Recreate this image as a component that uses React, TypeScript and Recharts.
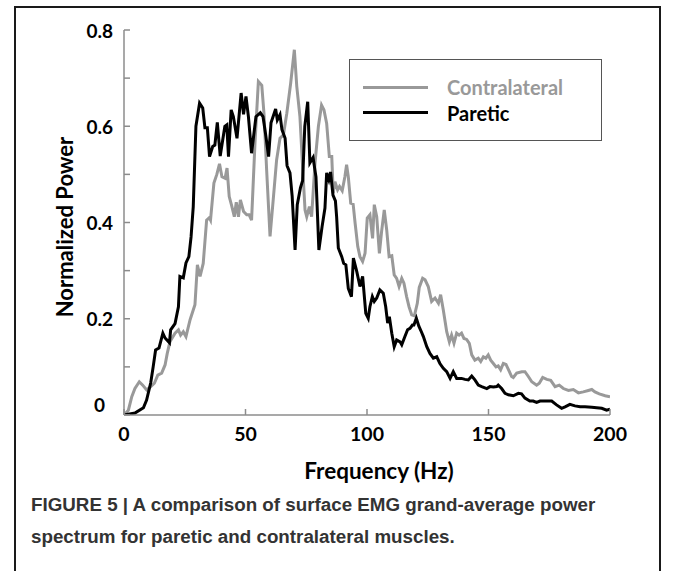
import React from 'react';
import { LineChart, Line, XAxis, YAxis } from 'recharts';

const parFreq = [0, 4.5, 8, 9.3, 11, 12, 13, 14.4, 16, 16.9, 18.7, 19.2, 21, 22.4, 23, 24.4, 25.5, 26.7, 27.6, 28.5, 29.6, 31.1, 32.4, 33.3, 34.3, 35.2, 36.5, 37.4, 38.4, 39.6, 41.5, 42.3, 43, 44.1, 45, 46.5, 48.2, 49.2, 50.2, 51.2, 52.5, 54.3, 56.1, 57.2, 58.4, 59.5, 60.5, 62.4, 63.1, 64.2, 65, 66.3, 67.1, 68.3, 69.2, 70.4, 71.3, 72.6, 73.5, 74.4, 75.6, 76.5, 77.8, 79, 80.2, 81.5, 82.7, 83.4, 84.3, 85, 86, 87, 87.5, 88.2, 89.6, 90.4, 91.3, 92.3, 93.6, 94.4, 95.8, 97.1, 98.2, 99.5, 100.5, 101.2, 102.2, 103, 104, 105.3, 106.7, 107.7, 108.5, 109.2, 110.2, 111.2, 112.2, 113.6, 114.3, 115.6, 116.7, 117.7, 118.7, 119.3, 120.3, 121.3, 122.2, 123.2, 124.6, 125.9, 127.3, 128.7, 130, 131.4, 132.8, 134.2, 135.5, 136.9, 138.9, 140.3, 141.7, 143.1, 144.4, 145.8, 147.2, 149.3, 150.6, 152, 153.4, 154, 155.4, 156.8, 158.2, 160.2, 162.3, 163.6, 165, 167, 168.4, 169.8, 171.2, 174, 176, 178, 180.1, 181.5, 183.5, 185.6, 187.7, 189.7, 192.5, 194.5, 196.6, 198.6, 200];
const parPower = [0, 0.004, 0.015, 0.031, 0.067, 0.1, 0.135, 0.139, 0.17, 0.16, 0.15, 0.177, 0.19, 0.225, 0.288, 0.285, 0.316, 0.329, 0.37, 0.433, 0.6, 0.648, 0.638, 0.597, 0.597, 0.537, 0.558, 0.561, 0.608, 0.538, 0.6, 0.603, 0.537, 0.634, 0.62, 0.575, 0.669, 0.625, 0.662, 0.62, 0.544, 0.62, 0.628, 0.62, 0.579, 0.537, 0.607, 0.636, 0.613, 0.624, 0.593, 0.575, 0.518, 0.503, 0.455, 0.343, 0.437, 0.472, 0.487, 0.6, 0.651, 0.524, 0.535, 0.495, 0.343, 0.391, 0.43, 0.503, 0.489, 0.505, 0.457, 0.445, 0.412, 0.347, 0.329, 0.315, 0.312, 0.263, 0.246, 0.326, 0.298, 0.267, 0.288, 0.211, 0.201, 0.225, 0.246, 0.236, 0.243, 0.26, 0.253, 0.225, 0.191, 0.204, 0.17, 0.142, 0.156, 0.152, 0.146, 0.163, 0.177, 0.18, 0.187, 0.187, 0.201, 0.185, 0.175, 0.163, 0.142, 0.128, 0.118, 0.121, 0.107, 0.097, 0.09, 0.076, 0.09, 0.076, 0.076, 0.074, 0.073, 0.081, 0.073, 0.062, 0.059, 0.055, 0.059, 0.058, 0.059, 0.062, 0.055, 0.045, 0.042, 0.04, 0.045, 0.044, 0.035, 0.029, 0.029, 0.026, 0.029, 0.029, 0.029, 0.021, 0.014, 0.017, 0.022, 0.019, 0.017, 0.017, 0.016, 0.015, 0.014, 0.01, 0.012];

const conFreq = [0, 1.8, 3.2, 4.5, 6.3, 7.7, 9.3, 11, 12.5, 13.9, 15.5, 16.9, 17.8, 18.9, 21, 22.4, 23.3, 24.4, 25.5, 27.2, 29.2, 30.2, 31.3, 32.6, 34, 35.1, 35.6, 37, 38.2, 39.3, 40.3, 41.6, 42.4, 43.3, 44.3, 45.4, 46.2, 47.1, 47.9, 49.2, 50.5, 51.5, 52.5, 53.9, 55.3, 56.7, 57.6, 58.7, 60.1, 61.4, 62.8, 64.2, 65.6, 67, 68.6, 70.1, 71.1, 72.4, 73.5, 74.5, 75.2, 76.3, 77.2, 78.6, 80, 81.3, 82.3, 83.4, 84.5, 85.5, 86.1, 86.8, 87.9, 88.7, 89.8, 90.9, 91.6, 92.3, 93.3, 94.3, 95.1, 96.2, 97.1, 98.2, 99.2, 100.1, 101.2, 102.3, 103, 104, 105.1, 106, 107.1, 108.1, 109.1, 110.2, 111.2, 112.2, 113.2, 114.3, 115.2, 116.3, 117.3, 118.4, 119.5, 120.7, 121.5, 122.9, 123.9, 125.2, 126.6, 128, 129.4, 130.3, 131.4, 132.8, 133.9, 134.8, 135.8, 136.9, 137.9, 138.9, 139.9, 141, 142.1, 143.1, 144.4, 145.8, 146.8, 147.9, 148.9, 149.9, 150.9, 152, 153.1, 154, 155, 156.1, 157.2, 158.6, 159.5, 160.2, 161.6, 163.7, 165, 166.4, 167.8, 169.8, 170.9, 172.3, 174, 175.6, 177.4, 179.1, 180.8, 182.9, 184.9, 187, 189, 191.1, 192.5, 193.8, 195.6, 198, 200];
const conPower = [0, 0.01, 0.038, 0.055, 0.069, 0.062, 0.052, 0.059, 0.066, 0.083, 0.087, 0.104, 0.128, 0.152, 0.17, 0.177, 0.166, 0.173, 0.163, 0.198, 0.229, 0.312, 0.288, 0.315, 0.405, 0.41, 0.405, 0.482, 0.5, 0.522, 0.495, 0.492, 0.513, 0.454, 0.435, 0.412, 0.442, 0.412, 0.447, 0.423, 0.416, 0.416, 0.405, 0.565, 0.693, 0.685, 0.627, 0.509, 0.371, 0.447, 0.53, 0.575, 0.582, 0.627, 0.69, 0.759, 0.683, 0.62, 0.516, 0.426, 0.412, 0.433, 0.412, 0.523, 0.6, 0.644, 0.634, 0.606, 0.537, 0.537, 0.461, 0.485, 0.468, 0.475, 0.466, 0.495, 0.52, 0.495, 0.44, 0.438, 0.399, 0.35, 0.329, 0.319, 0.336, 0.409, 0.416, 0.367, 0.437, 0.412, 0.336, 0.381, 0.426, 0.385, 0.329, 0.331, 0.291, 0.284, 0.267, 0.284, 0.274, 0.246, 0.225, 0.208, 0.206, 0.232, 0.265, 0.284, 0.281, 0.267, 0.236, 0.243, 0.232, 0.25, 0.218, 0.173, 0.152, 0.166, 0.149, 0.17, 0.166, 0.17, 0.159, 0.157, 0.149, 0.125, 0.114, 0.118, 0.111, 0.121, 0.118, 0.125, 0.114, 0.107, 0.1, 0.102, 0.094, 0.107, 0.105, 0.09, 0.08, 0.078, 0.087, 0.09, 0.09, 0.08, 0.069, 0.062, 0.066, 0.078, 0.074, 0.072, 0.059, 0.062, 0.055, 0.051, 0.053, 0.046, 0.048, 0.051, 0.053, 0.048, 0.044, 0.04, 0.038];

const xTicks = [0, 50, 100, 150, 200];
const yTicks = [0, 0.1, 0.2, 0.3, 0.4, 0.5, 0.6, 0.7, 0.8];
const yTickLabels = ['0', '', '0.2', '', '0.4', '', '0.6', '', '0.8'];

const seriesNames = ['Contralateral', 'Paretic'];
const seriesColors = ['#999999', '#000000'];

const parData = parFreq.map((f, i) => ({ f, v: parPower[i] }));
const conData = conFreq.map((f, i) => ({ f, v: conPower[i] }));

const AXIS_COLOR = '#8c8c8c';
const FONT = 'Lato, "Open Sans", sans-serif';

const YTick = (props: any) => {
  const { x, y, payload, index } = props;
  const label = yTickLabels[index] ?? '';
  if (!label) return null;
  const isZero = payload.value === 0;
  return (
    <text x={x + (isZero ? -8 : 0)} y={y + (isZero ? -11 : 0)} textAnchor="end" dominantBaseline="central" fontFamily={FONT} fontWeight={700} fontSize={19} fill="#000">
      {label}
    </text>
  );
};

const LegendBox = () => (
  <div style={{ position: 'absolute', left: 349, top: 59, width: 251, height: 80, border: '1.5px solid #555', background: '#fff' }}>
    {seriesNames.map((n, i) => (
      <div key={n} style={{ position: 'absolute', left: 0, top: 15 + i * 25.5, height: 24, display: 'flex', alignItems: 'center' }}>
        <div style={{ marginLeft: 13, width: 65, height: 3, background: seriesColors[i] }} />
        <span style={{ marginLeft: 19, fontFamily: FONT, fontWeight: 700, fontSize: 20, color: seriesColors[i], whiteSpace: 'nowrap' }}>{n}</span>
      </div>
    ))}
  </div>
);

export default function App() {
  return (
    <div style={{ position: 'absolute', left: 0, top: 0, width: 674, height: 571, background: '#fff', overflow: 'hidden' }}>
      <div style={{ position: 'absolute', left: 14, top: 6, width: 643, height: 620, border: '2px solid #1a1a1a' }} />
      <div style={{ position: 'absolute', left: 0, top: 0 }}>
        <LineChart width={674} height={460} margin={{ top: 30, right: 64, bottom: 15, left: 0 }}>
          <XAxis
            dataKey="f"
            type="number"
            domain={[0, 200]}
            ticks={xTicks}
            allowDataOverflow
            stroke={AXIS_COLOR}
            strokeWidth={1.5}
            tickSize={-6}
            tickMargin={18}
            height={30}
            tick={{ fill: '#000', fontFamily: FONT, fontWeight: 700, fontSize: 19.5 }}
          />
          <XAxis
            xAxisId="top"
            dataKey="f"
            type="number"
            orientation="top"
            domain={[0, 200]}
            ticks={xTicks}
            allowDataOverflow
            stroke={AXIS_COLOR}
            strokeWidth={1.5}
            tickSize={-6}
            tick={false}
            height={0}
          />
          <YAxis
            type="number"
            domain={[0, 0.8]}
            ticks={yTicks}
            allowDataOverflow
            stroke={AXIS_COLOR}
            strokeWidth={1.5}
            tickSize={-6}
            tickMargin={17}
            width={124}
            tick={<YTick />}
          />
          <YAxis
            yAxisId="right"
            type="number"
            orientation="right"
            domain={[0, 0.8]}
            ticks={yTicks}
            allowDataOverflow
            stroke={AXIS_COLOR}
            strokeWidth={1.5}
            tickSize={-6}
            tick={false}
            width={0}
          />
          <Line data={conData} dataKey="v" name={seriesNames[0]} type="linear" stroke={seriesColors[0]} strokeWidth={3} dot={false} isAnimationActive={false} />
          <Line data={parData} dataKey="v" name={seriesNames[1]} type="linear" stroke={seriesColors[1]} strokeWidth={3} dot={false} isAnimationActive={false} />
        </LineChart>
      </div>
      <LegendBox />
      <div style={{ position: 'absolute', left: 379, top: 470, transform: 'translate(-50%, -50%)', fontFamily: FONT, fontWeight: 700, fontSize: 22.5, color: '#000', whiteSpace: 'nowrap' }}>
        Frequency (Hz)
      </div>
      <div style={{ position: 'absolute', left: 64, top: 227, transform: 'translate(-50%, -50%) rotate(-90deg)', fontFamily: FONT, fontWeight: 700, fontSize: 22, color: '#000', whiteSpace: 'nowrap' }}>
        Normalized Power
      </div>
      <div style={{ position: 'absolute', left: 31, top: 489, fontFamily: '"Liberation Sans", Arial, sans-serif', fontWeight: 700, fontSize: 18.8, lineHeight: '32px', color: '#333', whiteSpace: 'nowrap' }}>
        <div>FIGURE 5 | A comparison of surface EMG grand-average power</div>
        <div>spectrum for paretic and contralateral muscles.</div>
      </div>
    </div>
  );
}
